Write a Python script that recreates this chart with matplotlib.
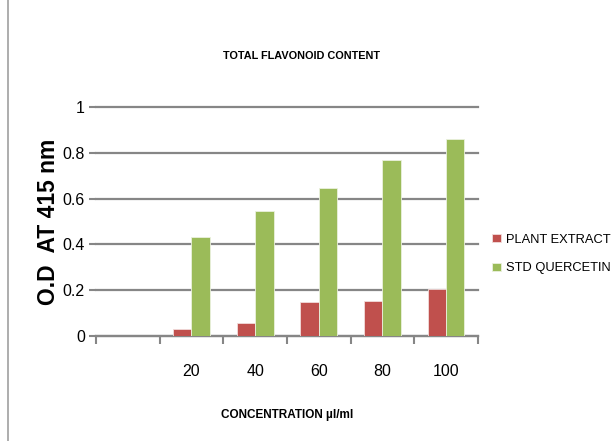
import numpy as np
import matplotlib.pyplot as plt
from matplotlib.patches import Rectangle

# data
categories = ["", "20", "40", "60", "80", "100"]
plant_extract = [0, 0.029, 0.058, 0.149, 0.154, 0.204]
std_quercetin = [0, 0.434, 0.548, 0.648, 0.767, 0.861]

font = ["Liberation Sans", "DejaVu Sans"]
grid_col = "#868686"

fig = plt.figure(figsize=(6.15, 4.41), dpi=100)
ax = fig.add_axes([0.156, 0.238, 0.621, 0.519])

# outer chart frame
fig.patches.append(Rectangle((0.013, -0.01), 1.0, 1.02, transform=fig.transFigure,
                             fill=False, edgecolor="#a0a0a0", linewidth=1.2))

x = np.arange(len(categories))
w = 0.29
ax.bar(x - w / 2, plant_extract, w, color="#C0504D", edgecolor="#f2dcdb",
       linewidth=0.6, label="PLANT EXTRACT", zorder=3)
ax.bar(x + w / 2, std_quercetin, w, color="#9BBB59", edgecolor="#ebf1de",
       linewidth=0.6, label="STD QUERCETIN", zorder=3)

ax.set_xlim(-0.5, len(categories) - 0.5)
ax.set_ylim(0, 1)
ax.set_yticks([0, 0.2, 0.4, 0.6, 0.8, 1])
ax.set_yticklabels(["0", "0.2", "0.4", "0.6", "0.8", "1"], family=font, fontsize=11.5)
ax.set_xticks(x)
ax.set_xticklabels(categories, family=font, fontsize=11.5)
ax.tick_params(axis="x", length=0, pad=20)
ax.tick_params(axis="y", length=5, color=grid_col, width=1.5, pad=3)
# category boundary ticks
ax.set_xticks(np.arange(-0.5, len(categories)), minor=True)
ax.tick_params(axis="x", which="minor", length=6, color=grid_col, width=1.5)

ax.grid(axis="y", color=grid_col, linewidth=1.6, zorder=0)
for line in ax.get_ygridlines():
    line.set_clip_on(False)
for s in ["top", "right", "left"]:
    ax.spines[s].set_visible(False)
ax.spines["bottom"].set_color(grid_col)
ax.spines["bottom"].set_linewidth(1.6)

ax.set_ylabel("O.D  AT 415 nm", fontweight="bold", fontsize=16.5,
              family=font, labelpad=2)
ax.set_xlabel("CONCENTRATION µl/ml", fontweight="bold", fontsize=8.5,
              family=font, labelpad=22)
fig.text(0.49, 0.872, "TOTAL FLAVONOID CONTENT", ha="center", va="center",
         fontweight="bold", fontsize=7.8, family=font)

ax.legend(loc="center left", bbox_to_anchor=(1.024, 0.358), frameon=False,
          prop={"family": font, "size": 9.3}, handlelength=0.65,
          handleheight=0.65, handletextpad=0.45, labelspacing=1.3,
          borderaxespad=0)

fig.savefig("out.png", dpi=100)
